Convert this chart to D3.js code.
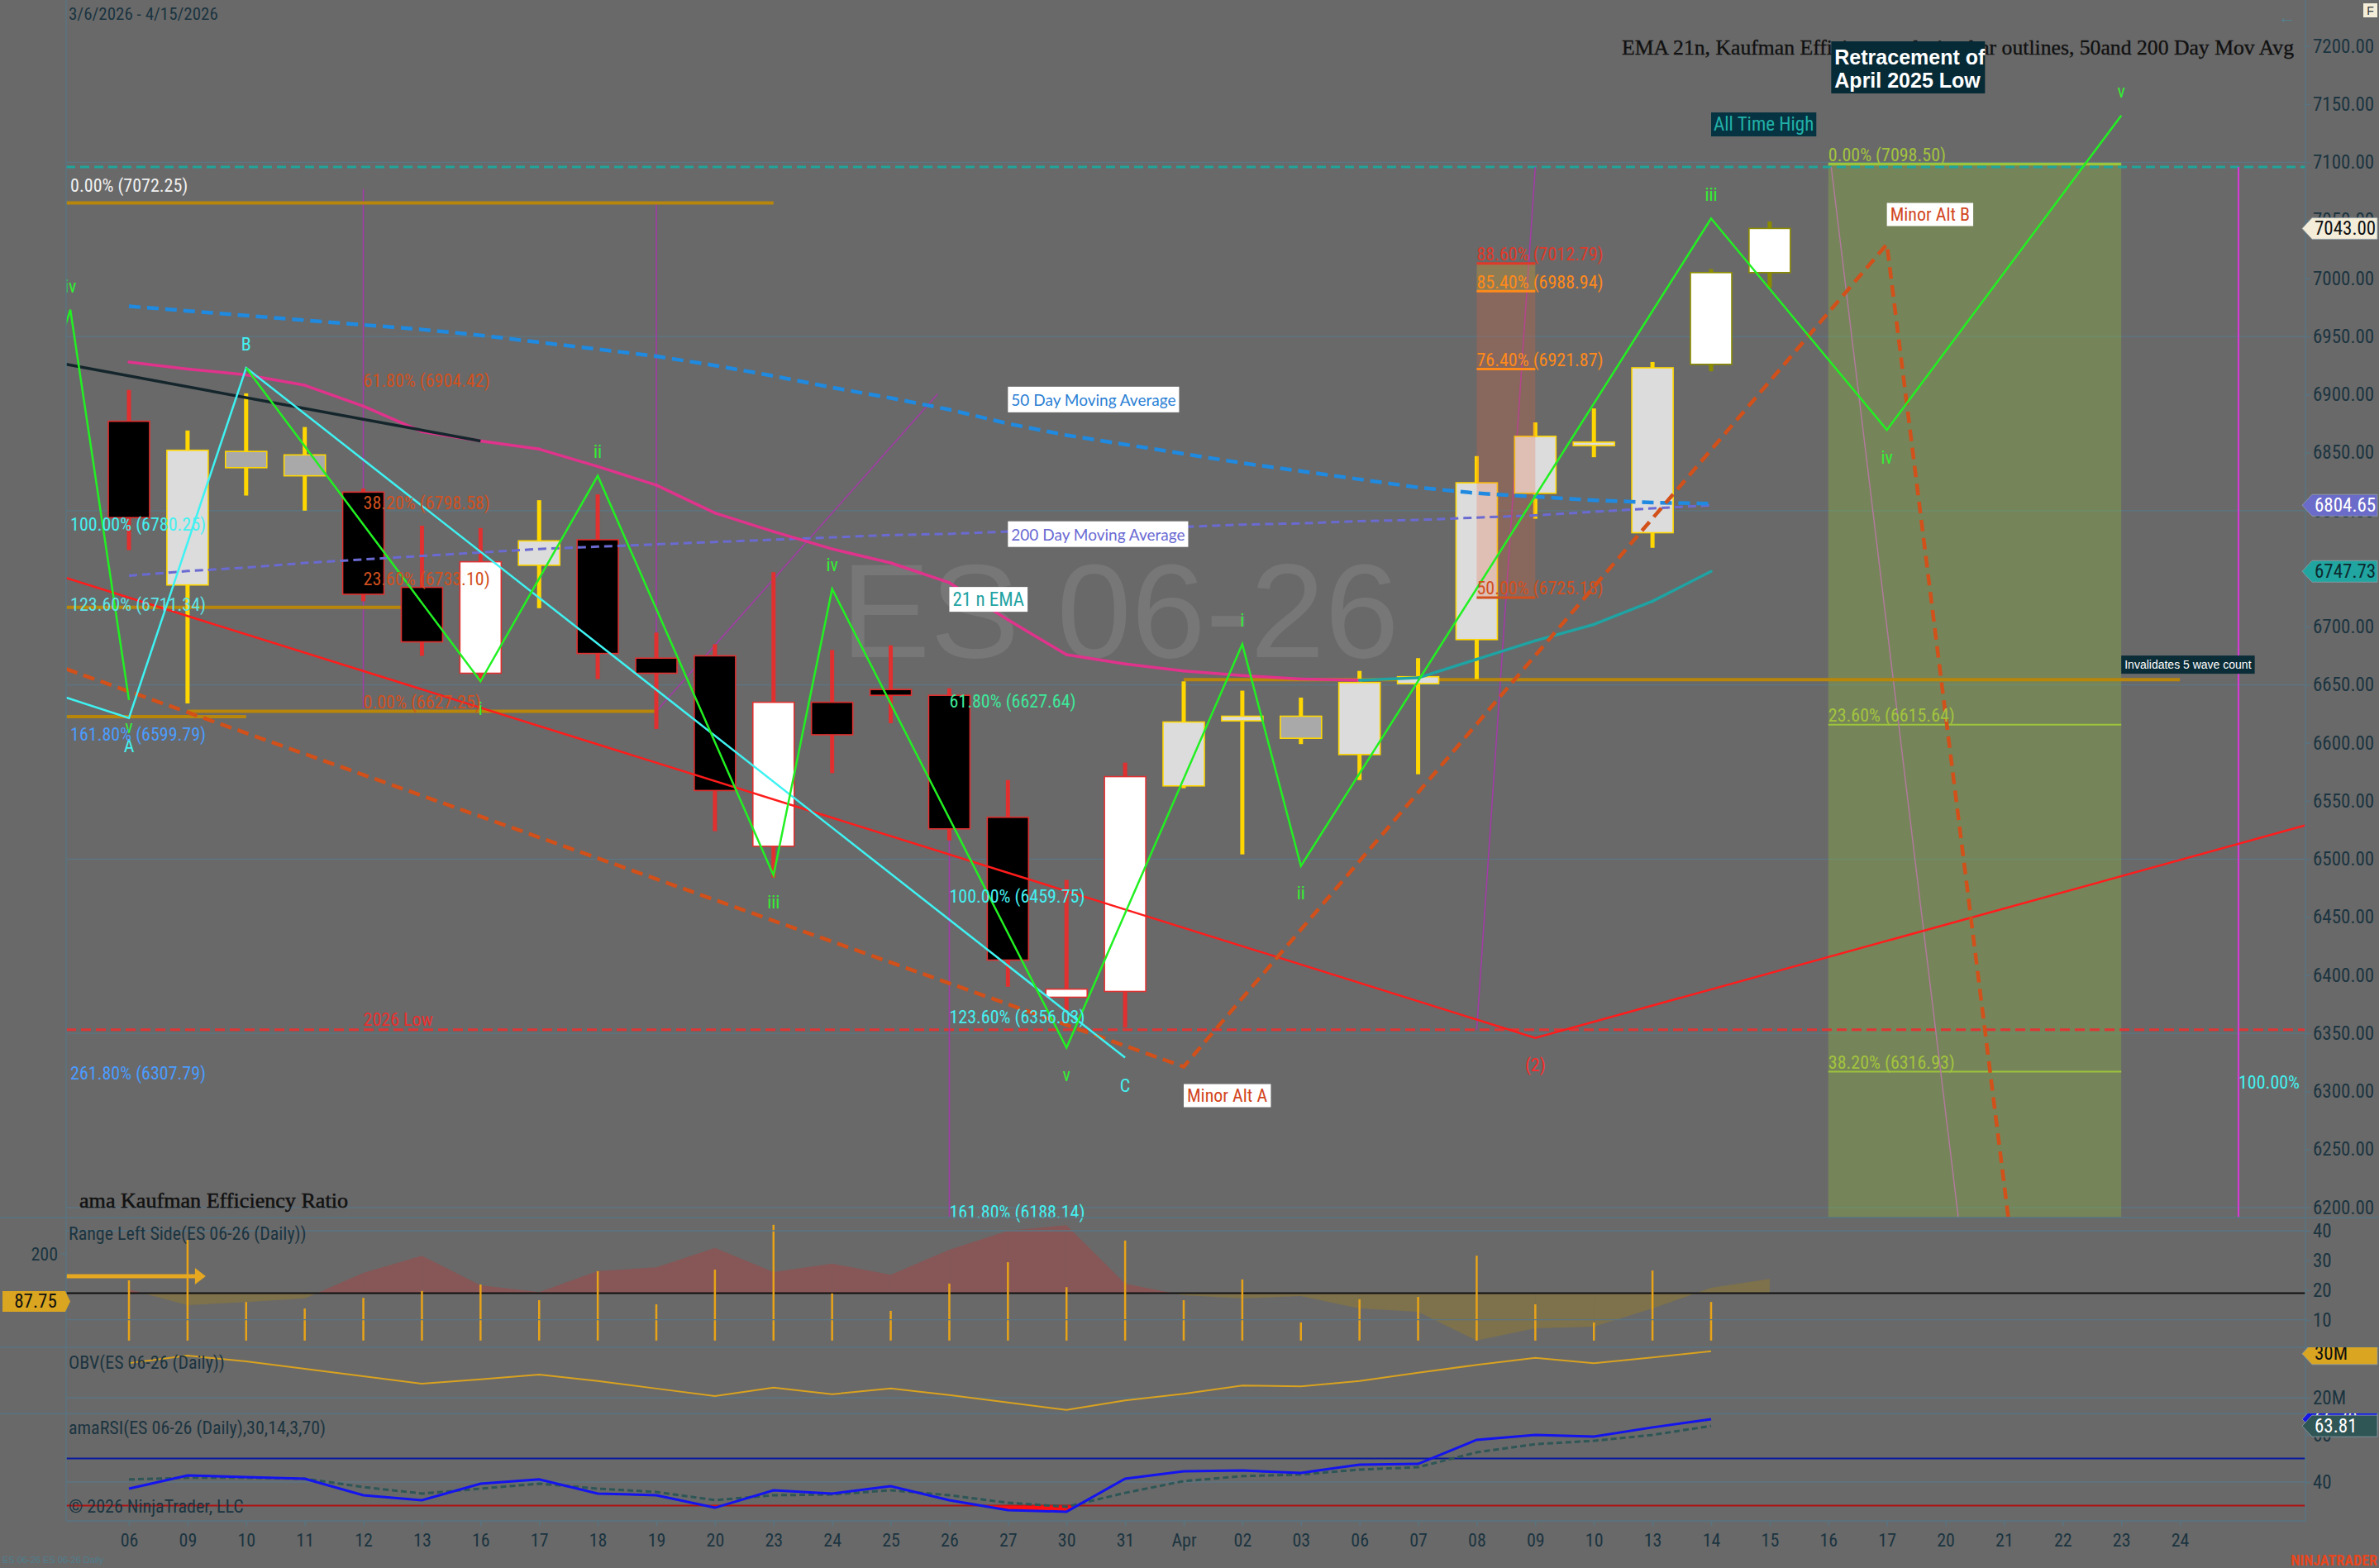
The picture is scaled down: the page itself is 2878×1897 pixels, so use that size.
<!DOCTYPE html>
<html><head><meta charset="utf-8">
<script src="https://cdn.jsdelivr.net/npm/d3@7"></script>
<style>
html,body{margin:0;padding:0;background:#696969;overflow:hidden;}
svg{display:block;}
</style></head>
<body>
<svg id="c" width="2878" height="1897"></svg>
<script>
// ================= DATA =================
const dateLabels = ["06","09","10","11","12","13","16","17","18","19","20","23","24","25","26","27","30","31","Apr","02","03","06","07","08","09","10","13","14","15","16","17","20","21","22","23","24"];
// daily OHLC, 3/6/2026 - 4/15/2026
const open  = [6877,6736,6851,6848,6816,6734,6660,6753,6775,6673,6675,6511,6635,6646,6641,6536,6381,6386,6563,6619,6623,6590,6651,6689,6815,6856,6781,6926,7005];
const high  = [6904,6869,6901,6872,6819,6787,6785,6809,6814,6695,6685,6747,6680,6684,6647,6568,6482,6583,6653,6645,6639,6662,6673,6847,6876,6888,6928,7008,7049];
const low   = [6766,6634,6813,6800,6722,6675,6653,6716,6655,6612,6524,6484,6574,6617,6516,6390,6370,6355,6561,6504,6599,6568,6573,6655,6793,6846,6768,6920,6992];
const close = [6794,6852,6837,6830,6728,6687,6756,6774,6677,6660,6559,6635,6607,6641,6526,6413,6388,6571,6618,6623,6604,6652,6657,6824,6864,6859,6923,7005,7043];
// Kaufman efficiency regime per bar
const regime = ["bear","bull","bull","bull","bear","bear","bear","bull","bear","bear","bear","bear","bear","bear","bear","bear","bear","bear","bull","bull","bull","bull","bull","bull","bull","bull","bull","neutral","neutral"];
const sma50  = [6976,6972,6968,6964,6960,6956,6951,6945,6939,6933,6925,6916,6906,6897,6887,6875,6865,6857,6849,6841,6834,6827,6820,6815,6812,6809,6807,6806];
const sma200 = [6744,6748,6751,6755,6758,6761,6764,6767,6769,6771,6773,6775,6777,6779,6780,6782,6783,6785,6786,6788,6789,6791,6792,6794,6796,6799,6802,6804.65];
const ema21  = [6928,6922,6917,6908,6890,6868,6860,6853,6838,6822,6798,6782,6767,6755,6738,6706,6676,6668,6662,6658,6655,6654,6656,6672,6688,6702,6722,6747.73];
// Range Left Side (Kaufman Efficiency Ratio) panel
const erLine = [20.3,14.9,16.0,17.2,25.8,31.6,21.6,19.3,26.4,27.7,34.2,26.1,28.9,25.2,33.6,40.0,41.9,22.2,18.3,17.2,18.0,13.8,12.7,3.0,7.1,7.7,13.8,20.8,23.8];
const erBars = [23.3,36.9,16.0,13.8,17.4,19.7,21.9,16.6,26.4,15.2,26.9,42.0,18.9,13.0,22.2,29.4,21.0,36.7,16.6,23.6,9.1,16.9,17.7,31.6,15.2,9.1,26.6,16.0];
const erBase = 19.0, erBarBase = 3;
// OBV (millions)
const obv = [27.9,29.6,28.3,26.6,24.9,23.2,24.2,25.3,23.8,22.1,20.4,22.3,20.8,22.1,20.6,18.9,17.2,19.4,20.9,22.8,22.6,23.8,25.7,27.5,29.1,27.9,29.2,30.6];
// amaRSI(30,14,3,70) and its signal
const rsi       = [37.2,42.8,42.1,41.4,34.4,32.3,39.3,41.1,35.1,34.4,29.1,36.5,35.1,38.2,32.3,28.1,27.4,41.4,44.6,44.9,43.9,47.4,47.7,57.9,60.0,59.3,63.2,66.7];
const rsiSignal = [41.1,41.8,41.8,41.4,37.9,35.1,37.2,39.3,37.2,35.8,32.3,34.4,34.7,36.5,34.4,31.2,29.5,35.4,40.4,42.5,43.2,45.3,46.3,52.6,56.1,57.5,60.0,63.81];
const rsiMid = 50, rsiLow = 30;
// price axis ticks
const priceTicks = d3.range(6200, 7201, 50);
const gridLevels = [7100,6950,6800,6650,6500,6350,6200];
// drawing objects (bar index, price)
const waveGreenA = [{i:-1.3,v:6925},{i:-1,v:6973,t:"iv",p:"up"},{i:0,v:6637,t:"v",p:"dn"}];
const waveGreen = [{i:2,v:6923},{i:6,v:6653,t:"i",p:"dn"},{i:8,v:6830,t:"ii",p:"up"},{i:11,v:6486,t:"iii",p:"dn"},{i:12,v:6732.6,t:"iv",p:"up"},{i:16,v:6337.5,t:"v",p:"dn"},{i:19,v:6685,t:"i",p:"up"},{i:20,v:6494,t:"ii",p:"dn"},{i:27,v:7051.6,t:"iii",p:"up"},{i:30,v:6869.5,t:"iv",p:"dn"},{i:34,v:7140.3,t:"v",p:"up"}];
const waveCyan = [{i:-1.07,v:6639},{i:0,v:6621.5,t:"A",p:"dn"},{i:2,v:6923,t:"B",p:"up"},{i:17,v:6329,t:"C",p:"dn"}];
const channelRed = [{i:-1.07,v:6742},{i:24,v:6346,t:"(2)",p:"dn"},{i:37.14,v:6529}];
const altPath = [{i:-1.07,v:6663.6},{i:18,v:6321.2},{i:30,v:7029.4},{i:32.1,v:6180}];
const blackTrend = [{i:-1.07,v:6926},{i:6,v:6860}];
const allTimeHigh = 7096, low2026 = 6353;
const goldRays = [{i0:-1.07,i1:11.0,v:7065},{i0:-1.07,i1:5.0,v:6716.7},{i0:-1.07,i1:2.0,v:6622.6},{i0:1,i1:9,v:6627.25},{i0:18,i1:35,v:6654.5}];
const purpleLines = [{i0:4,v0:7077,i1:4,v1:6630},{i0:9,v0:7065.6,i1:9,v1:6627.2},{i0:9,v0:6627.2,i1:13.8,v1:6900.4},{i0:14,v0:6629,i1:14,v1:6180},{i0:23,v0:6353,i1:24,v1:7096}];
const pinkLine = {i0:29.05,v0:7096,i1:31.22,v1:6191};
const magentaTime = {i:36, v0:7096, label:"100.00%", labelV:6308};
const fibLeft   = {i:-1, levels:[["0.00%",7072.25],["100.00%",6780.25],["123.60%",6711.34],["161.80%",6599.79],["261.80%",6307.79]]};
const fibOrange = {i:4,  levels:[["61.80%",6904.42],["38.20%",6798.58],["23.60%",6733.10],["0.00%",6627.25]]};
const fibCyan   = {i:14, levels:[["61.80%",6627.64],["100.00%",6459.75],["123.60%",6356.03],["161.80%",6188.14]]};
const fibBox    = {i0:23, i1:24, levels:[["88.60%",7012.79],["85.40%",6988.94],["76.40%",6921.87],["50.00%",6725.18]]};
const fibGreen  = {i0:29, i1:34, levels:[["0.00%",7098.50],["23.60%",6615.64],["38.20%",6316.93]]};
const erArrow = {i0:-1.07, i1:1.31, v:24.7};

// ================= STYLE / LAYOUT =================
const NARROW = "'Liberation Sans Narrow','Arial Narrow','Roboto Condensed','DejaVu Sans Condensed',sans-serif";
const SANS = "'Liberation Sans',Arial,sans-serif";
const SERIF = "'Liberation Serif','Times New Roman',serif";
const HUMAN = "Lato,'Open Sans',sans-serif";
const AXC = "#1b3440";
const BG = "#696969";
const X0 = 80, X1 = 2789;
const MAIN_B = 1473, ER_B = 1630, OBV_B = 1710, RSI_B = 1840;

const svg = d3.select("#c");
svg.append("rect").attr("width",2878).attr("height",1897).attr("fill",BG);
const defs = svg.append("defs");
function clip(id,x0,y0,x1,y1){defs.append("clipPath").attr("id",id).append("rect").attr("x",x0).attr("y",y0).attr("width",x1-x0).attr("height",y1-y0);}
clip("cMain",X0,0,X1,MAIN_B);
clip("cER",X0,MAIN_B,X1,ER_B);
clip("cOBV",X0,ER_B,X1,OBV_B);
clip("cRSI",X0,OBV_B,X1,RSI_B);
clip("cAxOBV",X1-10,ER_B,2878,OBV_B);
clip("cAxRSI",X1-10,OBV_B,2878,RSI_B);

const x = d3.scaleLinear().domain([0,27]).range([156,2070]);
const y = d3.scaleLinear().domain([6200,7200]).range([1460.8,55.8]);
const yER = d3.scaleLinear().domain([0,40]).range([1632.6,1489]);
const yOBV = d3.scaleLinear().domain([20,30]).range([1691,1638]);
const yRSI = d3.scaleLinear().domain([40,60]).range([1793,1736]);

function txt(g,s,px,py,opt){
  const t=g.append("text").attr("x",px).attr("y",py).text(s)
    .attr("font-family",opt.font||NARROW).attr("font-size",opt.size||22)
    .attr("fill",opt.color||"#000").attr("text-anchor",opt.anchor||"start")
    .attr("dominant-baseline","central");
  if(opt.weight) t.attr("font-weight",opt.weight);
  return t;
}
function boxText(g,s,px,py,opt){
  const gg=g.append("g");
  const r=gg.append("rect").attr("fill",opt.bg);
  const t=txt(gg,s,px+(opt.padX||4),py,opt);
  const bb=t.node().getBBox();
  r.attr("x",px).attr("y",py-(opt.h||28)/2).attr("width",bb.width+2*(opt.padX||4)).attr("height",opt.h||28);
  return gg;
}

// ---------- MAIN PANEL ----------
const main = svg.append("g").attr("clip-path","url(#cMain)");
main.selectAll("line.grid").data(gridLevels).join("line")
  .attr("x1",X0).attr("x2",X1).attr("y1",d=>y(d)).attr("y2",d=>y(d))
  .attr("stroke","#5b7684").attr("stroke-width",1.3);
txt(main,"ES 06-26",1355,738,{font:SANS,size:162,color:"#777777",anchor:"middle"});

// green retracement box
main.append("rect").attr("x",x(fibGreen.i0)).attr("width",x(fibGreen.i1)-x(fibGreen.i0))
  .attr("y",y(fibGreen.levels[0][1])).attr("height",MAIN_B-y(fibGreen.levels[0][1]))
  .attr("fill","rgba(154,205,50,0.28)");
fibGreen.levels.forEach((l,k)=>{
  main.append("line").attr("x1",x(fibGreen.i0)).attr("x2",x(fibGreen.i1)).attr("y1",y(l[1])).attr("y2",y(l[1]))
    .attr("stroke","#9cc43c").attr("stroke-width",k===0?3.5:2);
});

main.append("line").attr("x1",X0).attr("x2",X1).attr("y1",y(allTimeHigh)).attr("y2",y(allTimeHigh))
  .attr("stroke","#1fa59c").attr("stroke-width",3).attr("stroke-dasharray","11,6");
main.append("line").attr("x1",X0).attr("x2",X1).attr("y1",y(low2026)).attr("y2",y(low2026))
  .attr("stroke","#e03535").attr("stroke-width",3).attr("stroke-dasharray","12,6");

purpleLines.forEach(p=>{
  main.append("line").attr("x1",x(p.i0)).attr("y1",y(p.v0)).attr("x2",x(p.i1)).attr("y2",y(p.v1))
    .attr("stroke","#a23ca6").attr("stroke-width",1.6);
});
main.append("line").attr("x1",x(pinkLine.i0)).attr("y1",y(pinkLine.v0)).attr("x2",x(pinkLine.i1)).attr("y2",y(pinkLine.v1))
  .attr("stroke","#b07a9c").attr("stroke-width",1.5);
main.append("line").attr("x1",x(magentaTime.i)).attr("x2",x(magentaTime.i)).attr("y1",y(magentaTime.v0)).attr("y2",MAIN_B)
  .attr("stroke","#d23cd2").attr("stroke-width",2.2);

goldRays.forEach(r=>{
  main.append("line").attr("x1",x(r.i0)).attr("x2",x(r.i1)).attr("y1",y(r.v)).attr("y2",y(r.v))
    .attr("stroke","#b8860b").attr("stroke-width",4);
});

// candles
const edge = {bear:"#e03030",bull:"#ffd700",neutral:"#8b8b00"};
function bodyFill(i){
  const up = close[i]>=open[i];
  if(regime[i]==="bear") return up?"#ffffff":"#000000";
  if(regime[i]==="bull") return up?"#dcdcdc":"#a9a9a9";
  return "#ffffff";
}
const cg = main.append("g");
open.forEach((o,i)=>{
  const cx=x(i);
  cg.append("rect").attr("x",cx-2.5).attr("width",5).attr("y",y(high[i])).attr("height",y(low[i])-y(high[i])).attr("fill",edge[regime[i]]);
  const top=y(Math.max(o,close[i])), bot=y(Math.min(o,close[i]));
  cg.append("rect").attr("x",cx-25).attr("width",50).attr("y",top).attr("height",Math.max(bot-top,3))
    .attr("fill",bodyFill(i)).attr("stroke",edge[regime[i]]).attr("stroke-width",1.6);
});

// fib box (88.6 - 50)
const bx0=x(fibBox.i0), bx1=x(fibBox.i1);
main.append("rect").attr("x",bx0).attr("width",bx1-bx0).attr("y",y(fibBox.levels[0][1])).attr("height",y(fibBox.levels[1][1])-y(fibBox.levels[0][1]))
  .attr("fill","rgba(230,170,40,0.3)");
main.append("rect").attr("x",bx0).attr("width",bx1-bx0).attr("y",y(fibBox.levels[1][1])).attr("height",y(fibBox.levels[3][1])-y(fibBox.levels[1][1]))
  .attr("fill","rgba(230,100,60,0.25)");
const boxCols=["#e0392a","#ff8a1a","#ff8a1a","#d2501e"];
fibBox.levels.forEach((l,k)=>{
  main.append("line").attr("x1",bx0).attr("x2",bx1).attr("y1",y(l[1])).attr("y2",y(l[1])).attr("stroke",boxCols[k]).attr("stroke-width",3);
});

// moving averages
const lineGen = (arr,ys)=>d3.line().x((d,i)=>x(i)).y(d=>ys(d))(arr);
main.append("path").attr("d",lineGen(sma200,y)).attr("fill","none").attr("stroke","#6a6ad2").attr("stroke-width",3).attr("stroke-dasharray","10,6");
main.append("path").attr("d",lineGen(sma50,y)).attr("fill","none").attr("stroke","#1f8ae0").attr("stroke-width",4.5).attr("stroke-dasharray","14,8");
for(let i=0;i<ema21.length-1;i++){
  main.append("line").attr("x1",x(i)).attr("y1",y(ema21[i])).attr("x2",x(i+1)).attr("y2",y(ema21[i+1]))
    .attr("stroke",ema21[i+1]>ema21[i]?"#1fa3a3":"#e0338c").attr("stroke-width",3.5).attr("stroke-linecap","round");
}

const pl = d3.line().x(d=>x(d.i)).y(d=>y(d.v));
main.append("path").attr("d",pl(blackTrend)).attr("fill","none").attr("stroke","#14262c").attr("stroke-width",3.5);
main.append("path").attr("d",pl(channelRed)).attr("fill","none").attr("stroke","#ff1c1c").attr("stroke-width",2.5);
main.append("path").attr("d",pl(altPath)).attr("fill","none").attr("stroke","#d2501a").attr("stroke-width",4.5).attr("stroke-dasharray","14,8");
main.append("path").attr("d",pl(waveCyan)).attr("fill","none").attr("stroke","#3ff2f2").attr("stroke-width",2.5);
main.append("path").attr("d",pl(waveGreenA)).attr("fill","none").attr("stroke","#22f022").attr("stroke-width",2.5);
main.append("path").attr("d",pl(waveGreen)).attr("fill","none").attr("stroke","#22f022").attr("stroke-width",2.5);

// ---------- MAIN TEXT ----------
const ann = svg.append("g").attr("clip-path","url(#cMain)");
function waveLabels(arr,color,up,dn){
  arr.filter(d=>d.t).forEach(d=>{
    txt(ann,d.t,x(d.i),y(d.v)+(d.p==="up"?-up:dn),{color,anchor:"middle",size:22});
  });
}
waveLabels(waveGreenA,"#33f033",28,33);
waveLabels(waveGreen,"#33f033",29,33);
waveLabels(waveCyan,"#45f0f0",28,34);
waveLabels(channelRed.filter(d=>d.t),"#ff2a2a",0,33);

const leftCols=["#f0f0f0","#45f0f0","#5fe4e8","#4b9cff","#4b9cff"];
fibLeft.levels.forEach((l,k)=>txt(ann,`${l[0]} (${l[1].toFixed(2)})`,x(fibLeft.i),y(l[1])-11,{color:leftCols[k]}));
fibOrange.levels.forEach(l=>txt(ann,`${l[0]} (${l[1].toFixed(2)})`,x(fibOrange.i),y(l[1])-11,{color:"#d2501e"}));
const cyanCols=["#3ee89a","#45f0f0","#45f0f0","#45f0f0"];
fibCyan.levels.forEach((l,k)=>txt(svg,`${l[0]} (${l[1].toFixed(2)})`,x(fibCyan.i),y(l[1])-11,{color:cyanCols[k]}));
fibBox.levels.forEach((l,k)=>txt(ann,`${l[0]} (${l[1].toFixed(2)})`,bx0,y(l[1])-11,{color:boxCols[k]}));
fibGreen.levels.forEach(l=>txt(ann,`${l[0]} (${l[1].toFixed(2)})`,x(fibGreen.i0),y(l[1])-11,{color:"#a2c43e"}));
txt(ann,magentaTime.label,x(magentaTime.i),y(magentaTime.labelV),{color:"#45f0f0"});
txt(ann,"2026 Low",x(4),y(low2026)-12,{color:"#e83030"});

boxText(ann,"50 Day Moving Average",x(15),y(6895.7),{bg:"#ffffff",color:"#2b7fd4",font:HUMAN,size:19,h:31});
boxText(ann,"200 Day Moving Average",x(15),y(6779.8),{bg:"#ffffff",color:"#6a6ad2",font:HUMAN,size:19,h:31});
boxText(ann,"21 n EMA",x(14),y(6723.6),{bg:"#ffffff",color:"#1fa3a3",size:23,h:30});
boxText(ann,"Minor Alt A",x(18),y(altPath[1].v)+35,{bg:"#ffffff",color:"#d2461e",size:22,h:28});
boxText(ann,"Minor Alt B",x(30),y(altPath[2].v)-36,{bg:"#ffffff",color:"#d2461e",size:22,h:28});
boxText(ann,"All Time High",x(27),y(7132.6),{bg:"#063341",color:"#22b0a8",size:23,h:29,padX:3});
boxText(ann,"Invalidates 5 wave count",x(34),y(6667.4),{bg:"#0b2d38",color:"#ffffff",font:SANS,size:14,h:22,padX:4});

// titles
txt(svg,"3/6/2026 - 4/15/2026",83,17,{color:AXC,size:21});
txt(svg,"EMA 21n, Kaufman Efficiency coloring bar outlines, 50and 200 Day Mov Avg",1962,57,{font:SERIF,size:25,color:"#111111"})
  .attr("textLength",813).attr("lengthAdjust","spacingAndGlyphs").attr("stroke","#111").attr("stroke-width",0.35);
{
  const g=svg.append("g");
  g.append("rect").attr("x",x(29.05)).attr("y",y(7181.7)-31.5).attr("width",186).attr("height",63).attr("fill","#062a36");
  txt(g,"Retracement of",x(29.05)+4,y(7181.7)-13,{font:SANS,size:25,weight:"bold",color:"#ffffff"});
  txt(g,"April 2025 Low",x(29.05)+4,y(7181.7)+15,{font:SANS,size:25,weight:"bold",color:"#ffffff"});
}
txt(svg,"ama Kaufman Efficiency Ratio",96,1452,{font:SERIF,size:25,color:"#111111"})
  .attr("textLength",325).attr("lengthAdjust","spacingAndGlyphs").attr("stroke","#111").attr("stroke-width",0.5);

// ---------- ER PANEL ----------
const er = svg.append("g").attr("clip-path","url(#cER)");
const red="rgba(180,60,60,0.4)", olive="rgba(160,130,30,0.38)";
for(let i=0;i<erLine.length-1;i++){
  const a=erLine[i], b=erLine[i+1];
  const pieces=[];
  if((a-erBase)*(b-erBase)<0){const t=(erBase-a)/(b-a); pieces.push([0,t,a,erBase],[t,1,erBase,b]);}
  else pieces.push([0,1,a,b]);
  pieces.forEach(([t0,t1,va,vb])=>{
    const above=(va+vb)/2>erBase;
    const col= above ? (regime[i+1]==="neutral"?olive:red) : olive;
    const pts=[[x(i+t0),yER(va)],[x(i+t1),yER(vb)],[x(i+t1),yER(erBase)],[x(i+t0),yER(erBase)]];
    er.append("path").attr("d","M"+pts.join("L")+"Z").attr("fill",col);
  });
}
er.append("line").attr("x1",X0).attr("x2",X1).attr("y1",yER(erBase)).attr("y2",yER(erBase)).attr("stroke","#101010").attr("stroke-width",2);
er.selectAll("line.b").data(erBars).join("line").attr("x1",(d,i)=>x(i)).attr("x2",(d,i)=>x(i))
  .attr("y1",yER(erBarBase)).attr("y2",d=>yER(d)).attr("stroke","#e8a317").attr("stroke-width",2.5);
[10,40].forEach(v=>er.append("line").attr("x1",X0).attr("x2",X1).attr("y1",yER(v)).attr("y2",yER(v)).attr("stroke","#5b7684").attr("stroke-width",1.3));
er.append("line").attr("x1",x(erArrow.i0)).attr("x2",x(erArrow.i1)-10).attr("y1",yER(erArrow.v)).attr("y2",yER(erArrow.v)).attr("stroke","#e6a821").attr("stroke-width",5);
er.append("path").attr("d",`M${x(erArrow.i1)-13},${yER(erArrow.v)-10}L${x(erArrow.i1)},${yER(erArrow.v)}L${x(erArrow.i1)-13},${yER(erArrow.v)+10}Z`).attr("fill","#e6a821");
txt(svg,"Range Left Side(ES 06-26 (Daily))",83,1492,{color:AXC,size:22});

// ---------- OBV ----------
const ob = svg.append("g").attr("clip-path","url(#cOBV)");
ob.append("line").attr("x1",X0).attr("x2",X1).attr("y1",yOBV(20)).attr("y2",yOBV(20)).attr("stroke","#5b7684").attr("stroke-width",1.3);
ob.append("path").attr("d",lineGen(obv,yOBV)).attr("fill","none").attr("stroke","#d9a21f").attr("stroke-width",2);
txt(svg,"OBV(ES 06-26 (Daily))",83,1648,{color:AXC,size:22});

// ---------- RSI ----------
const rs = svg.append("g").attr("clip-path","url(#cRSI)");
rs.append("line").attr("x1",X0).attr("x2",X1).attr("y1",yRSI(40)).attr("y2",yRSI(40)).attr("stroke","#5b7684").attr("stroke-width",1.3);
rs.append("line").attr("x1",X0).attr("x2",X1).attr("y1",yRSI(rsiMid)).attr("y2",yRSI(rsiMid)).attr("stroke","#0a1a9e").attr("stroke-width",2);
rs.append("line").attr("x1",X0).attr("x2",X1).attr("y1",yRSI(rsiLow)).attr("y2",yRSI(rsiLow)).attr("stroke","#b01010").attr("stroke-width",2);
for(let i=0;i<rsi.length-1;i++){
  const a=rsi[i], b=rsi[i+1];
  if(a>=rsiLow && b>=rsiLow) continue;
  let t0=0,t1=1;
  if(a>=rsiLow) t0=(rsiLow-a)/(b-a);
  if(b>=rsiLow) t1=(rsiLow-a)/(b-a);
  const va=a+(b-a)*t0, vb=a+(b-a)*t1;
  const pts=[[x(i+t0),yRSI(va)],[x(i+t1),yRSI(vb)],[x(i+t1),yRSI(rsiLow)],[x(i+t0),yRSI(rsiLow)]];
  rs.append("path").attr("d","M"+pts.join("L")+"Z").attr("fill","#ff1010");
}
rs.append("path").attr("d",lineGen(rsiSignal,yRSI)).attr("fill","none").attr("stroke","#2e5656").attr("stroke-width",3).attr("stroke-dasharray","7,4");
rs.append("path").attr("d",lineGen(rsi,yRSI)).attr("fill","none").attr("stroke","#1414ee").attr("stroke-width",3);
txt(svg,"amaRSI(ES 06-26 (Daily),30,14,3,70)",83,1727,{color:AXC,size:22});
txt(svg,"\u00a9 2026 NinjaTrader, LLC",83,1822,{color:AXC,size:22});

// ---------- frames ----------
const fr = svg.append("g").attr("stroke","#587482").attr("stroke-width",1.5);
[MAIN_B,ER_B,OBV_B].forEach(v=>fr.append("line").attr("x1",0).attr("x2",2878).attr("y1",v).attr("y2",v));
fr.append("line").attr("x1",X0).attr("x2",X1).attr("y1",RSI_B).attr("y2",RSI_B);
fr.append("line").attr("x1",X0).attr("x2",X0).attr("y1",0).attr("y2",RSI_B);
fr.append("line").attr("x1",X1).attr("x2",X1).attr("y1",0).attr("y2",RSI_B);

// ---------- axes ----------
function styleAxis(g,size){
  g.select(".domain").remove();
  g.selectAll(".tick line").attr("stroke","#587482").attr("stroke-width",1.5);
  g.selectAll(".tick text").attr("fill",AXC).attr("font-family",NARROW).attr("font-size",size||23);
}
const axP = svg.append("g").attr("transform",`translate(${X1},0)`)
  .call(d3.axisRight(y).tickValues(priceTicks).tickFormat(d3.format(".2f")).tickSize(6));
styleAxis(axP);
const axE = svg.append("g").attr("transform",`translate(${X1},0)`)
  .call(d3.axisRight(yER).tickValues([10,20,30,40]).tickSize(6));
styleAxis(axE);
const axO = svg.append("g").attr("transform",`translate(${X1},0)`)
  .call(d3.axisRight(yOBV).tickValues([20]).tickFormat(d=>d+"M").tickSize(6));
styleAxis(axO);
const axR = svg.append("g").attr("transform",`translate(${X1},0)`)
  .call(d3.axisRight(yRSI).tickValues([40,60]).tickSize(6));
styleAxis(axR);
const axX = svg.append("g").attr("transform",`translate(0,${RSI_B})`)
  .call(d3.axisBottom(x).tickValues(d3.range(0,dateLabels.length)).tickFormat(i=>dateLabels[i]).tickSize(6));
styleAxis(axX,22);
axX.selectAll(".tick text").attr("y",15);

// left ER axis
txt(svg,"200",70,1517,{color:AXC,size:22,anchor:"end"});
svg.append("line").attr("x1",74).attr("x2",X0).attr("y1",1517).attr("y2",1517).attr("stroke","#587482").attr("stroke-width",1.5);
{
  const yy=yER(erBase)+10;
  svg.append("path").attr("d",`M3,${yy-12.5}L79,${yy-12.5}L85,${yy}L79,${yy+12.5}L3,${yy+12.5}Z`).attr("fill","#daa520");
  txt(svg,"87.75",43,yy,{color:"#111",size:23,anchor:"middle"});
}

// flags on right axis
function flag(g,yy,s,bg,fg){
  g.append("path").attr("d",`M${X1-4},${yy}L${X1+8},${yy-13}L2876,${yy-13}L2876,${yy+13}L${X1+8},${yy+13}Z`).attr("fill",bg).attr("stroke","#8fa0a8").attr("stroke-width",0.8);
  txt(g,s,2800,yy,{color:fg,size:23});
}
flag(svg,y(close[close.length-1]),close[close.length-1].toFixed(2),"#f3edd9","#111");
flag(svg,y(sma200[sma200.length-1]),sma200[sma200.length-1].toFixed(2),"#6b6bc9","#ffffff");
flag(svg,y(ema21[ema21.length-1]),ema21[ema21.length-1].toFixed(2),"#21a5a0","#0d2a30");
const fO=svg.append("g").attr("clip-path","url(#cAxOBV)");
flag(fO,yOBV(obv[obv.length-1])+3,Math.floor(obv[obv.length-1])+"M","#daa520","#111");
const fR=svg.append("g").attr("clip-path","url(#cAxRSI)");
flag(fR,yRSI(rsi[rsi.length-1]),rsi[rsi.length-1].toFixed(2),"#1616e6","#ffffff");
flag(fR,yRSI(rsiSignal[rsiSignal.length-1]),rsiSignal[rsiSignal.length-1].toFixed(2),"#2f5555","#ffffff");

// corner bits
svg.append("rect").attr("x",2859).attr("y",4).attr("width",17).attr("height",17).attr("fill","#f3edd9");
txt(svg,"F",2867.5,13,{color:"#333",size:14,anchor:"middle",font:SANS});
txt(svg,"\u2190",2767,20,{color:"#55808e",size:22,anchor:"middle",font:SANS});
txt(svg,"ES 06-26 ES 06-26 Daily",3,1887,{color:"#4f7f8e",size:11,font:SANS});
txt(svg,"NINJATRADER",2876,1887,{color:"#e8461e",size:18,anchor:"end",weight:"bold"});
</script>
</body></html>
